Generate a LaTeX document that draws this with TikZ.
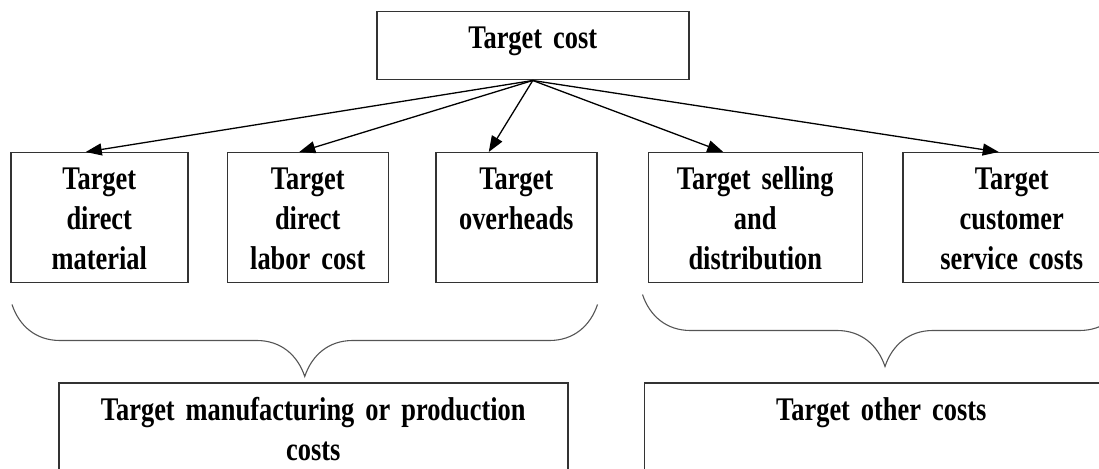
\documentclass[tikz,border=0pt]{standalone}
\usepackage{fontspec}
\setmainfont{Liberation Serif}[FakeStretch=0.8]
\usepackage{tikz}
\usetikzlibrary{positioning,arrows.meta,decorations.pathreplacing}
\definecolor{cborde}{HTML}{333333}
\definecolor{cllave}{HTML}{555555}
\newcommand\letracaja{\fontsize{33}{40}\selectfont\bfseries\fontdimen2\font=5.5pt\relax}
\tikzset{
  caja/.style={rectangle, draw=cborde, line width=1.5pt, inner sep=0pt,
    align=center, text height=37pt, font=\letracaja},
  cajam/.style={caja, text depth=93pt},
  flecha/.style={-{Triangle[length=16pt,width=12pt]}, line width=1.3pt, draw=black},
  llave/.style={decorate, decoration={brace, mirror, amplitude=48pt,
    transform={yscale=1.5}}, line width=1.1pt, draw=cllave},
}

\begin{document}
\begin{tikzpicture}[x=1pt, y=1pt]
  \useasboundingbox (0,0) rectangle (1099,468);
  \clip (0,0) rectangle (1099,468);
  \node[caja, text width=312pt, text depth=31pt, anchor=north west] (tc) at (376,457) {Target cost};
  \node[cajam, text width=177pt, anchor=north west] (m1) at (10,316) {Target\\direct\\material};
  \node[cajam, text width=161pt, right=38pt of m1] (m2) {Target\\direct\\labor cost};
  \node[cajam, text width=161pt, right=46pt of m2] (m3) {Target\\overheads};
  \node[cajam, text width=214pt, right=50pt of m3] (m4) {Target selling\\and\\distribution};
  \node[cajam, text width=218pt, right=39pt of m4] (m5) {Target\\customer\\service costs};
  \node[caja, text width=509pt, text depth=80pt, below right=99pt and 48pt of m1.south west] (b1) {Target manufacturing or production\\costs};
  \node[caja, text width=474pt, text depth=80pt, below right=99pt and -4pt of m4.south west] (b2) {Target other costs};
  \draw[flecha] (tc.south) -- ([xshift=-13.5pt]m1.north);
  \draw[flecha] (tc.south) -- ([xshift=-8.5pt]m2.north);
  \draw[flecha] (tc.south) -- ([xshift=-27.5pt]m3.north);
  \draw[flecha] (tc.south) -- ([xshift=-32pt]m4.north);
  \draw[flecha] (tc.south) -- ([xshift=-13pt]m5.north);
  % llaves
  \draw[llave] ([xshift=2pt,yshift=-21pt]m1.south west) -- ([yshift=-21pt]m3.south east);
  \draw[llave] ([xshift=-5pt,yshift=-11pt]m4.south west) -- ([xshift=6pt,yshift=-11pt]m5.south east);
\end{tikzpicture}
\end{document}
